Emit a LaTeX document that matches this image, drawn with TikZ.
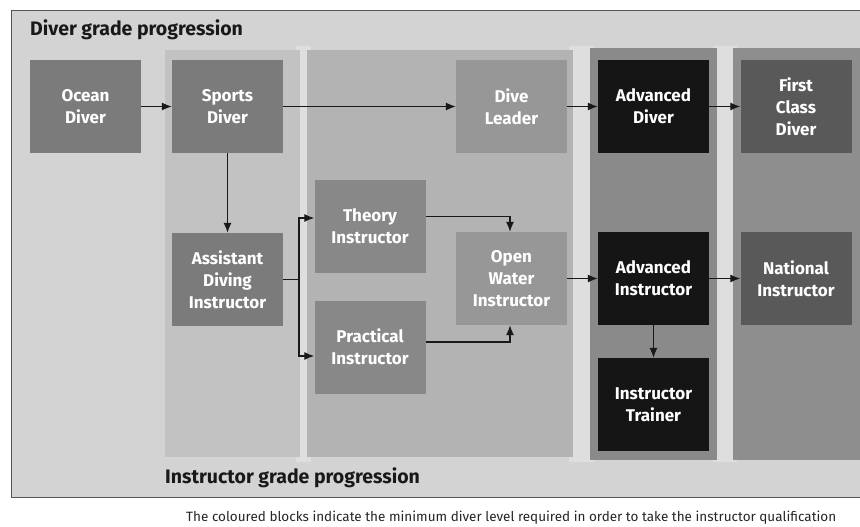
\documentclass[tikz,border=0pt]{standalone}
\usepackage{fontspec}
\setmainfont{Fira Sans}
\usetikzlibrary{arrows.meta}
\definecolor{bgout}{HTML}{D3D3D3}
\definecolor{gapc}{HTML}{DEDEDE}
\definecolor{bandA}{HTML}{C2C2C2}
\definecolor{bandB}{HTML}{B3B3B3}
\definecolor{bandC}{HTML}{8A8A8A}
\definecolor{bandD}{HTML}{8E8E8E}
\definecolor{boxA}{HTML}{7B7B7B}
\definecolor{boxB}{HTML}{888888}
\definecolor{boxC}{HTML}{979797}
\definecolor{boxK}{HTML}{151515}
\definecolor{boxD}{HTML}{595959}
\definecolor{frame}{HTML}{555555}
\tikzset{
  grade/.style={minimum width=111pt, minimum height=93pt, inner sep=0pt,
    text=white, align=center, font=\fontsize{17}{22}\selectfont\bfseries},
  conn/.style={line width=1.2pt, draw=black!90, -{Latex[length=10pt,width=8pt]}},
  plainconn/.style={line width=1.2pt, draw=black!90},
  heading/.style={anchor=base west, inner sep=0pt, font=\fontsize{19.5}{22}\selectfont\bfseries, text=black!90},
  capt/.style={anchor=base west, inner sep=0pt, font=\fontsize{13.5}{16}\selectfont, text=black!85}
}
\begin{document}
\begin{tikzpicture}[x=1pt,y=-1pt]
\useasboundingbox (0,0) rectangle (860,527);
\fill[white] (0,0) rectangle (860,527);
% outer frame
\filldraw[fill=bgout, draw=frame, line width=0.8pt] (11,10) rectangle (875,497);
% light gaps between bands
\fill[gapc] (296,46) rectangle (311,462);
\fill[gapc] (569,46) rectangle (594,462);
\fill[gapc] (713,46) rectangle (737,462);
% bands
\fill[bandA] (165,50) rectangle (300,457);
\fill[bandB] (307,50) rectangle (573,457);
\fill[bandC] (590,48) rectangle (717,460);
\fill[bandD] (733,48) rectangle (875,460);
% headings
\node[heading] (title) at (30,36) {Diver grade progression};
\node[heading] (subtitle) at (165,483) {Instructor grade progression};
\node[capt] (caption) at (186,521) {The coloured blocks indicate the minimum diver level required in order to take the instructor qualification};
% grade boxes
\node[grade, fill=boxA] (ocean) at (85.5,106.5) {Ocean\\Diver};
\node[grade, fill=boxA] (sports) at (227.5,106.5) {Sports\\Diver};
\node[grade, fill=boxC] (leader) at (511.5,106.5) {Dive\\Leader};
\node[grade, fill=boxK] (advdiver) at (653.5,106.5) {Advanced\\Diver};
\node[grade, fill=boxD] (first) at (796,106.5) {First\\Class\\Diver};
\node[grade, fill=boxA] (assistant) at (227.5,279.5) {Assistant\\Diving\\Instructor};
\node[grade, fill=boxB] (theory) at (370,226.5) {Theory\\Instructor};
\node[grade, fill=boxB] (practical) at (370,347) {Practical\\Instructor};
\node[grade, fill=boxC] (openwater) at (511.5,278.5) {Open\\Water\\Instructor};
\node[grade, fill=boxK] (advinstr) at (653.5,278.5) {Advanced\\Instructor};
\node[grade, fill=boxD] (national) at (796,278.5) {National\\Instructor};
\node[grade, fill=boxK] (trainer) at (653.5,404.5) {Instructor\\Trainer};
% connectors
\draw[conn] (ocean) -- (sports);
\draw[conn] (sports) -- (leader);
\draw[conn] (leader) -- (advdiver);
\draw[conn] (advdiver) -- (first);
\draw[conn] (sports) -- (assistant);
\coordinate (split) at (299,279.5);
\draw[plainconn] (assistant.east) -- (split);
\draw[conn] (split) |- ([yshift=8.5pt]theory.west);
\draw[conn] (split) |- ([yshift=-9pt]practical.west);
\draw[conn] ([yshift=10pt]theory.east) -| ([xshift=-1.5pt]openwater.north);
\draw[conn] ([yshift=5pt]practical.east) -| ([xshift=-1.5pt]openwater.south);
\draw[conn] (openwater) -- (advinstr);
\draw[conn] (advinstr) -- (national);
\draw[conn] (advinstr) -- (trainer);
\end{tikzpicture}
\end{document}
